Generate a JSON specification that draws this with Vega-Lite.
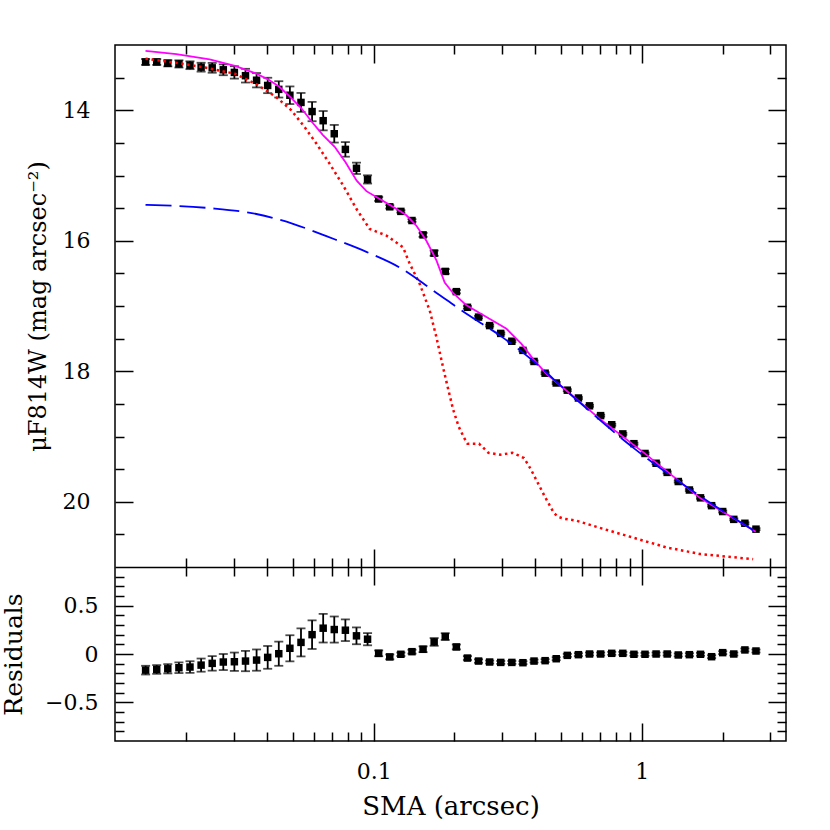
{
  "$schema": "https://vega.github.io/schema/vega-lite/v6.json",
  "autosize": "none",
  "padding": {"left": 115, "top": 45, "right": 44, "bottom": 89},
  "width": 671,
  "height": 696,
  "config": {
    "view": {"stroke": "#000", "strokeWidth": 1.5},
    "axis": {
      "grid": false, "domain": false, "tickColor": "#000", "tickWidth": 1.5,
      "labelFont": "DejaVu Serif", "labelFontSize": 22, "labelColor": "#000",
      "titleFont": "DejaVu Serif", "titleFontSize": 26, "titleFontWeight": "normal", "titleColor": "#000",
      "labelFlush": false, "labelOverlap": false, "labelBound": false
    }
  },
  "datasets": {
    "pts": [
      {"sma": 0.01410, "mu": 13.26, "res": -0.167, "err": 0.045},
      {"sma": 0.01551, "mu": 13.26, "res": -0.160, "err": 0.045},
      {"sma": 0.01706, "mu": 13.28, "res": -0.153, "err": 0.048},
      {"sma": 0.01877, "mu": 13.29, "res": -0.142, "err": 0.055},
      {"sma": 0.02064, "mu": 13.31, "res": -0.135, "err": 0.060},
      {"sma": 0.02271, "mu": 13.34, "res": -0.115, "err": 0.068},
      {"sma": 0.02498, "mu": 13.35, "res": -0.097, "err": 0.075},
      {"sma": 0.02748, "mu": 13.38, "res": -0.083, "err": 0.083},
      {"sma": 0.03022, "mu": 13.42, "res": -0.080, "err": 0.095},
      {"sma": 0.03325, "mu": 13.47, "res": -0.073, "err": 0.105},
      {"sma": 0.03657, "mu": 13.54, "res": -0.063, "err": 0.110},
      {"sma": 0.04023, "mu": 13.62, "res": -0.035, "err": 0.118},
      {"sma": 0.04425, "mu": 13.68, "res": 0.003, "err": 0.125},
      {"sma": 0.04868, "mu": 13.77, "res": 0.059, "err": 0.135},
      {"sma": 0.05355, "mu": 13.88, "res": 0.120, "err": 0.145},
      {"sma": 0.05890, "mu": 14.02, "res": 0.200, "err": 0.148},
      {"sma": 0.06479, "mu": 14.16, "res": 0.267, "err": 0.148},
      {"sma": 0.07127, "mu": 14.36, "res": 0.253, "err": 0.135},
      {"sma": 0.07840, "mu": 14.60, "res": 0.246, "err": 0.112},
      {"sma": 0.08624, "mu": 14.89, "res": 0.188, "err": 0.087},
      {"sma": 0.09486, "mu": 15.06, "res": 0.153, "err": 0.063},
      {"sma": 0.10435, "mu": 15.36, "res": 0.007, "err": 0.030},
      {"sma": 0.11478, "mu": 15.48, "res": -0.030, "err": 0.025},
      {"sma": 0.12626, "mu": 15.55, "res": -0.003, "err": 0.018},
      {"sma": 0.13889, "mu": 15.69, "res": 0.024, "err": 0.020},
      {"sma": 0.15278, "mu": 15.91, "res": 0.049, "err": 0.030},
      {"sma": 0.16805, "mu": 16.19, "res": 0.125, "err": 0.040},
      {"sma": 0.18486, "mu": 16.47, "res": 0.180, "err": 0.035},
      {"sma": 0.20335, "mu": 16.78, "res": 0.073, "err": 0.025},
      {"sma": 0.22368, "mu": 17.02, "res": -0.042, "err": 0.020},
      {"sma": 0.24605, "mu": 17.17, "res": -0.073, "err": 0.018},
      {"sma": 0.27066, "mu": 17.30, "res": -0.083, "err": 0.015},
      {"sma": 0.29772, "mu": 17.42, "res": -0.087, "err": 0.015},
      {"sma": 0.32749, "mu": 17.54, "res": -0.087, "err": 0.015},
      {"sma": 0.36024, "mu": 17.68, "res": -0.090, "err": 0.015},
      {"sma": 0.39627, "mu": 17.85, "res": -0.073, "err": 0.015},
      {"sma": 0.43590, "mu": 18.03, "res": -0.069, "err": 0.015},
      {"sma": 0.47949, "mu": 18.18, "res": -0.049, "err": 0.015},
      {"sma": 0.52743, "mu": 18.29, "res": -0.014, "err": 0.015},
      {"sma": 0.58018, "mu": 18.41, "res": -0.007, "err": 0.015},
      {"sma": 0.63820, "mu": 18.53, "res": 0.000, "err": 0.015},
      {"sma": 0.70202, "mu": 18.68, "res": 0.000, "err": 0.015},
      {"sma": 0.77222, "mu": 18.82, "res": 0.007, "err": 0.015},
      {"sma": 0.84944, "mu": 18.96, "res": 0.007, "err": 0.015},
      {"sma": 0.93438, "mu": 19.11, "res": -0.003, "err": 0.015},
      {"sma": 1.0278, "mu": 19.26, "res": -0.003, "err": 0.015},
      {"sma": 1.1306, "mu": 19.41, "res": 0.000, "err": 0.015},
      {"sma": 1.2437, "mu": 19.55, "res": 0.000, "err": 0.015},
      {"sma": 1.3680, "mu": 19.69, "res": -0.010, "err": 0.015},
      {"sma": 1.5048, "mu": 19.82, "res": -0.007, "err": 0.015},
      {"sma": 1.6553, "mu": 19.94, "res": -0.003, "err": 0.015},
      {"sma": 1.8209, "mu": 20.06, "res": -0.028, "err": 0.015},
      {"sma": 2.0029, "mu": 20.15, "res": 0.014, "err": 0.015},
      {"sma": 2.2032, "mu": 20.27, "res": 0.000, "err": 0.015},
      {"sma": 2.4236, "mu": 20.33, "res": 0.042, "err": 0.015},
      {"sma": 2.6659, "mu": 20.42, "res": 0.031, "err": 0.015}
    ],
    "magenta": [
      {"sma": 0.01409, "mu": 13.09}, {"sma": 0.01836, "mu": 13.14}, {"sma": 0.02443, "mu": 13.22},
      {"sma": 0.03038, "mu": 13.32}, {"sma": 0.03659, "mu": 13.44}, {"sma": 0.04046, "mu": 13.53},
      {"sma": 0.04446, "mu": 13.64}, {"sma": 0.04889, "mu": 13.80}, {"sma": 0.05373, "mu": 13.97},
      {"sma": 0.05886, "mu": 14.18}, {"sma": 0.06467, "mu": 14.38}, {"sma": 0.07152, "mu": 14.56},
      {"sma": 0.07860, "mu": 14.80}, {"sma": 0.08641, "mu": 15.08}, {"sma": 0.0939, "mu": 15.24},
      {"sma": 0.1023, "mu": 15.33}, {"sma": 0.1147, "mu": 15.45}, {"sma": 0.1261, "mu": 15.55},
      {"sma": 0.1324, "mu": 15.61}, {"sma": 0.1443, "mu": 15.77}, {"sma": 0.1572, "mu": 16.00},
      {"sma": 0.1714, "mu": 16.30}, {"sma": 0.1840, "mu": 16.64}, {"sma": 0.1976, "mu": 16.80},
      {"sma": 0.2218, "mu": 16.99}, {"sma": 0.2633, "mu": 17.17}, {"sma": 0.3128, "mu": 17.35},
      {"sma": 0.3557, "mu": 17.58}, {"sma": 0.3929, "mu": 17.81}, {"sma": 0.4409, "mu": 18.04},
      {"sma": 0.4943, "mu": 18.21}, {"sma": 0.6972, "mu": 18.73}, {"sma": 1.0112, "mu": 19.24},
      {"sma": 1.646, "mu": 19.94}, {"sma": 2.66, "mu": 20.46}
    ],
    "blue": [
      {"sma": 0.01409, "mu": 15.45}, {"sma": 0.02443, "mu": 15.50}, {"sma": 0.03649, "mu": 15.59},
      {"sma": 0.05000, "mu": 15.74}, {"sma": 0.06660, "mu": 15.93}, {"sma": 0.0939, "mu": 16.17},
      {"sma": 0.1250, "mu": 16.41}, {"sma": 0.1664, "mu": 16.76}, {"sma": 0.2218, "mu": 17.12},
      {"sma": 0.2952, "mu": 17.45}, {"sma": 0.3929, "mu": 17.84}, {"sma": 0.5236, "mu": 18.30},
      {"sma": 0.9279, "mu": 19.17}, {"sma": 1.646, "mu": 19.91}, {"sma": 2.66, "mu": 20.46}
    ],
    "red": [
      {"sma": 0.01409, "mu": 13.21}, {"sma": 0.01888, "mu": 13.28}, {"sma": 0.02375, "mu": 13.35},
      {"sma": 0.03038, "mu": 13.44}, {"sma": 0.03649, "mu": 13.60}, {"sma": 0.04334, "mu": 13.80},
      {"sma": 0.04930, "mu": 14.00}, {"sma": 0.05527, "mu": 14.26}, {"sma": 0.06111, "mu": 14.51},
      {"sma": 0.06850, "mu": 14.82}, {"sma": 0.07683, "mu": 15.15}, {"sma": 0.08617, "mu": 15.51},
      {"sma": 0.09662, "mu": 15.82}, {"sma": 0.1115, "mu": 15.92}, {"sma": 0.1286, "mu": 16.10},
      {"sma": 0.1362, "mu": 16.35}, {"sma": 0.1484, "mu": 16.66}, {"sma": 0.1618, "mu": 17.07},
      {"sma": 0.1714, "mu": 17.48}, {"sma": 0.1814, "mu": 17.94}, {"sma": 0.1877, "mu": 18.20},
      {"sma": 0.1976, "mu": 18.58}, {"sma": 0.2075, "mu": 18.85}, {"sma": 0.2173, "mu": 19.02},
      {"sma": 0.2237, "mu": 19.11}, {"sma": 0.2471, "mu": 19.11}, {"sma": 0.2679, "mu": 19.25},
      {"sma": 0.2960, "mu": 19.28}, {"sma": 0.3293, "mu": 19.25}, {"sma": 0.3467, "mu": 19.29},
      {"sma": 0.3637, "mu": 19.33}, {"sma": 0.3853, "mu": 19.50}, {"sma": 0.4346, "mu": 19.92},
      {"sma": 0.4694, "mu": 20.17}, {"sma": 0.4872, "mu": 20.23}, {"sma": 0.5117, "mu": 20.26},
      {"sma": 0.5706, "mu": 20.29}, {"sma": 0.6972, "mu": 20.40}, {"sma": 0.9279, "mu": 20.55},
      {"sma": 1.2363, "mu": 20.70}, {"sma": 1.646, "mu": 20.80}, {"sma": 2.602, "mu": 20.88}
    ]
  },
  "resolve": {"scale": {"y": "independent"}, "axis": {"x": "independent", "y": "independent"}},
  "layer": [
    {
      "data": {"name": "pts"},
      "mark": {"type": "errorbar", "ticks": {"size": 9}, "thickness": 1.8, "color": "#000"},
      "encoding": {
        "x": {"field": "sma", "type": "quantitative", "scale": {"type": "log", "domain": [0.01084, 3.45], "nice": false}, "axis": null},
        "y": {"field": "mu", "type": "quantitative", "scale": {"domain": [13, 21], "range": [0, 522], "nice": false, "zero": false}, "axis": null},
        "yError": {"field": "err"}
      }
    },
    {
      "data": {"name": "pts"},
      "mark": {"type": "point", "shape": "square", "filled": true, "size": 56, "color": "#000", "opacity": 1},
      "encoding": {
        "x": {"field": "sma", "type": "quantitative", "scale": {"type": "log", "domain": [0.01084, 3.45], "nice": false},
          "axis": {"orient": "bottom", "offset": -174, "title": null, "labels": false,
            "domain": true, "domainColor": "#000", "domainWidth": 1.5,
            "values": [0.02,0.03,0.04,0.05,0.06,0.07,0.08,0.09,0.1,0.2,0.3,0.4,0.5,0.6,0.7,0.8,0.9,1,2,3],
            "tickSize": {"condition": {"test": "datum.value === 0.1 || datum.value === 1", "value": -18}, "value": -9}}},
        "y": {"field": "mu", "type": "quantitative", "scale": {"domain": [13, 21], "range": [0, 522], "nice": false, "zero": false},
          "axis": {"orient": "left", "title": "μF814W (mag arcsec⁻²)", "titleFontSize": 24, "titlePadding": 12,
            "values": [13.5,14,14.5,15,15.5,16,16.5,17,17.5,18,18.5,19,19.5,20,20.5],
            "labelExpr": "datum.value % 2 === 0 ? format(datum.value, 'd') : ''",
            "labelPadding": 43,
            "tickSize": {"condition": {"test": "datum.value % 2 === 0", "value": -18}, "value": -9}}}
      }
    },
    {
      "data": {"name": "magenta"},
      "mark": {"type": "line", "color": "#ff00ff", "strokeWidth": 1.8},
      "encoding": {
        "x": {"field": "sma", "type": "quantitative", "scale": {"type": "log", "domain": [0.01084, 3.45], "nice": false},
          "axis": {"orient": "top", "title": null, "labels": false,
            "values": [0.02,0.03,0.04,0.05,0.06,0.07,0.08,0.09,0.1,0.2,0.3,0.4,0.5,0.6,0.7,0.8,0.9,1,2,3],
            "tickSize": {"condition": {"test": "datum.value === 0.1 || datum.value === 1", "value": -18}, "value": -9}}},
        "y": {"field": "mu", "type": "quantitative", "scale": {"domain": [13, 21], "range": [0, 522], "nice": false, "zero": false},
          "axis": {"orient": "right", "title": null, "labels": false,
            "values": [13.5,14,14.5,15,15.5,16,16.5,17,17.5,18,18.5,19,19.5,20,20.5],
            "tickSize": {"condition": {"test": "datum.value % 2 === 0", "value": -18}, "value": -9}}}
      }
    },
    {
      "data": {"name": "red"},
      "mark": {"type": "line", "color": "#ff0000", "strokeWidth": 2.5, "strokeDash": [2.5, 3.5]},
      "encoding": {
        "x": {"field": "sma", "type": "quantitative", "scale": {"type": "log", "domain": [0.01084, 3.45], "nice": false}, "axis": null},
        "y": {"field": "mu", "type": "quantitative", "scale": {"domain": [13, 21], "range": [0, 522], "nice": false, "zero": false}, "axis": null}
      }
    },
    {
      "data": {"name": "blue"},
      "mark": {"type": "line", "color": "#0000ff", "strokeWidth": 1.8, "strokeDash": [26, 8], "interpolate": "monotone"},
      "encoding": {
        "x": {"field": "sma", "type": "quantitative", "scale": {"type": "log", "domain": [0.01084, 3.45], "nice": false}, "axis": null},
        "y": {"field": "mu", "type": "quantitative", "scale": {"domain": [13, 21], "range": [0, 522], "nice": false, "zero": false}, "axis": null}
      }
    },
    {
      "mark": {"type": "rule", "color": "#000", "strokeWidth": 1.5},
      "encoding": {
        "y": {"datum": 0, "type": "quantitative", "scale": {"domain": [-0.9, 0.9], "range": [696, 522], "nice": false, "zero": false}, "axis": null}
      }
    },
    {
      "data": {"name": "pts"},
      "mark": {"type": "errorbar", "ticks": {"size": 9}, "thickness": 1.8, "color": "#000"},
      "encoding": {
        "x": {"field": "sma", "type": "quantitative", "scale": {"type": "log", "domain": [0.01084, 3.45], "nice": false},
          "axis": {"orient": "top", "offset": -522, "title": null, "labels": false,
            "values": [0.02,0.03,0.04,0.05,0.06,0.07,0.08,0.09,0.1,0.2,0.3,0.4,0.5,0.6,0.7,0.8,0.9,1,2,3],
            "tickSize": {"condition": {"test": "datum.value === 0.1 || datum.value === 1", "value": -18}, "value": -9}}},
        "y": {"field": "res", "type": "quantitative", "scale": {"domain": [-0.9, 0.9], "range": [696, 522], "nice": false, "zero": false},
          "axis": {"orient": "right", "title": null, "labels": false,
            "values": [-0.8,-0.7,-0.6,-0.5,-0.4,-0.3,-0.2,-0.1,0,0.1,0.2,0.3,0.4,0.5,0.6,0.7,0.8],
            "tickSize": {"condition": {"test": "datum.value === 0.5 || datum.value === -0.5 || datum.value === 0", "value": -18}, "value": -9}}},
        "yError": {"field": "err"}
      }
    },
    {
      "data": {"name": "pts"},
      "mark": {"type": "point", "shape": "square", "filled": true, "size": 56, "color": "#000", "opacity": 1},
      "encoding": {
        "x": {"field": "sma", "type": "quantitative", "scale": {"type": "log", "domain": [0.01084, 3.45], "nice": false},
          "axis": {"orient": "bottom", "title": "SMA (arcsec)", "titleFontSize": 26, "titlePadding": 2,
            "values": [0.02,0.03,0.04,0.05,0.06,0.07,0.08,0.09,0.1,0.2,0.3,0.4,0.5,0.6,0.7,0.8,0.9,1,2,3],
            "labelExpr": "datum.value === 0.1 ? '0.1' : datum.value === 1 ? '1' : ''",
            "labelPadding": 38,
            "tickSize": {"condition": {"test": "datum.value === 0.1 || datum.value === 1", "value": -18}, "value": -9}}},
        "y": {"field": "res", "type": "quantitative", "scale": {"domain": [-0.9, 0.9], "range": [696, 522], "nice": false, "zero": false},
          "axis": {"orient": "left", "title": "Residuals", "titleFontSize": 25, "titlePadding": 18,
            "values": [-0.8,-0.7,-0.6,-0.5,-0.4,-0.3,-0.2,-0.1,0,0.1,0.2,0.3,0.4,0.5,0.6,0.7,0.8],
            "labelExpr": "datum.value === 0 ? '0' : (datum.value === 0.5 || datum.value === -0.5) ? datum.label : ''",
            "labelPadding": 35,
            "tickSize": {"condition": {"test": "datum.value === 0.5 || datum.value === -0.5 || datum.value === 0", "value": -18}, "value": -9}}}
      }
    }
  ]
}
